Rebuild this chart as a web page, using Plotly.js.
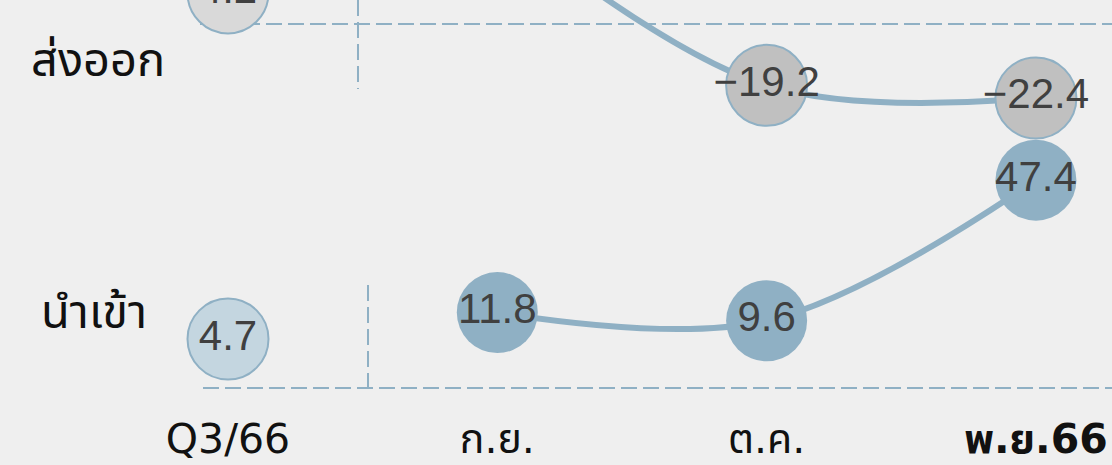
<!DOCTYPE html>
<html><head><meta charset="utf-8">
<script src="https://cdn.plot.ly/plotly-3.0.1.min.js"></script>
<style>html,body{margin:0;padding:0;background:#efefef;overflow:hidden;}</style>
</head><body><div id="chart" style="width:1112px;height:465px;"></div>
<script>
// ---- data ----
const categories = ['Q3/66', 'ก.ย.', 'ต.ค.', 'พ.ย.66'];
const tickLabels = ['Q3/66', 'ก.ย.', 'ต.ค.', '<b>พ.ย.66</b>'];
const rowLabels = ['ส่งออก', 'นำเข้า'];
const exportsQuarter = [4.2];
const exportsMonthly = [23.0, -19.2, -22.4]; // ก.ย. lies above the visible crop (estimated)
const importsQuarter = [4.7];
const importsMonthly = [11.8, 9.6, 47.4];

// ---- styling ----
const lineColor = '#8fb0c4';
const textColor = '#404040';
const numFont = 'Liberation Sans, Arial, sans-serif';
const thaiFont = 'Noto Sans Thai, Noto Sans, Loma, sans-serif';
const xIdx = categories.map((c, i) => i);
const fmt = v => (v < 0 ? '\u2212' : '') + Math.abs(v).toFixed(1);

const traces = [
  { // exports quarter
    x: [xIdx[0]], y: exportsQuarter, yaxis: 'y2', type: 'scatter', mode: 'markers+text',
    marker: {size: 81, color: '#d9d9d9', line: {color: lineColor, width: 2}},
    text: exportsQuarter.map(fmt), textposition: 'middle center',
    textfont: {size: 42, color: textColor, family: numFont}, hoverinfo: 'skip'
  },
  { // exports monthly
    x: xIdx.slice(1), y: exportsMonthly, yaxis: 'y2', type: 'scatter', mode: 'lines+markers+text',
    line: {color: lineColor, width: 6, shape: 'spline', smoothing: 1},
    marker: {size: 81, color: '#c0c0c0', line: {color: lineColor, width: 2}},
    text: exportsMonthly.map(fmt), textposition: 'middle center',
    textfont: {size: 42, color: textColor, family: numFont}, hoverinfo: 'skip'
  },
  { // imports quarter
    x: [xIdx[0]], y: importsQuarter, yaxis: 'y', type: 'scatter', mode: 'markers+text',
    marker: {size: 81, color: '#c4d6e0', line: {color: lineColor, width: 2}},
    text: importsQuarter.map(fmt), textposition: 'middle center',
    textfont: {size: 42, color: textColor, family: numFont}, hoverinfo: 'skip'
  },
  { // imports monthly
    x: xIdx.slice(1), y: importsMonthly, yaxis: 'y', type: 'scatter', mode: 'lines+markers+text',
    line: {color: lineColor, width: 6, shape: 'spline', smoothing: 1},
    marker: {size: 81, color: lineColor, line: {color: lineColor, width: 0}},
    text: importsMonthly.map(fmt), textposition: 'middle center',
    textfont: {size: 42, color: textColor, family: numFont}, hoverinfo: 'skip'
  }
];

const dashLine = {color: lineColor, width: 2, dash: '16px,6px'};
const layout = {
  width: 1112, height: 465,
  margin: {l: 0, r: 0, t: 0, b: 60, pad: 0},
  paper_bgcolor: '#efefef', plot_bgcolor: '#efefef',
  showlegend: false,
  xaxis: {
    range: [-0.8466, 3.2825], tickvals: xIdx, ticktext: tickLabels,
    showgrid: false, zeroline: false, showline: false, ticks: '', ticklabelstandoff: 6,
    tickfont: {size: 41, color: '#111111', family: 'DejaVu Sans, ' + thaiFont}, fixedrange: true
  },
  yaxis: {range: [-13.04, 95.83], visible: false, fixedrange: true},
  yaxis2: {range: [-100.13, 2.41], overlaying: 'y', visible: false, fixedrange: true},
  shapes: [
    {type: 'line', xref: 'x', yref: 'paper', x0: -0.104, x1: 3.3, y0: 0.9407, y1: 0.9407, line: dashLine, layer: 'below'},
    {type: 'line', xref: 'x', yref: 'paper', x0: 0.4827, x1: 0.4827, y0: 1.0, y1: 0.7802, line: dashLine, layer: 'below'},
    {type: 'line', xref: 'x', yref: 'paper', x0: -0.0928, x1: 3.3, y0: 0.042, y1: 0.042, line: dashLine, layer: 'below'},
    {type: 'line', xref: 'x', yref: 'paper', x0: 0.5199, x1: 0.5199, y0: 0.2963, y1: 0.042, line: dashLine, layer: 'below'}
  ],
  annotations: [
    {text: rowLabels[0], xref: 'paper', yref: 'paper', x: 0.088, y: 0.847, showarrow: false,
     font: {size: 47, color: '#111111', family: thaiFont}, xanchor: 'center', yanchor: 'middle'},
    {text: rowLabels[1], xref: 'paper', yref: 'paper', x: 0.0845, y: 0.2247, showarrow: false,
     font: {size: 47, color: '#111111', family: thaiFont}, xanchor: 'center', yanchor: 'middle'}
  ]
};

Plotly.newPlot('chart', traces, layout, {displayModeBar: false, staticPlot: true});
</script>
</body></html>
